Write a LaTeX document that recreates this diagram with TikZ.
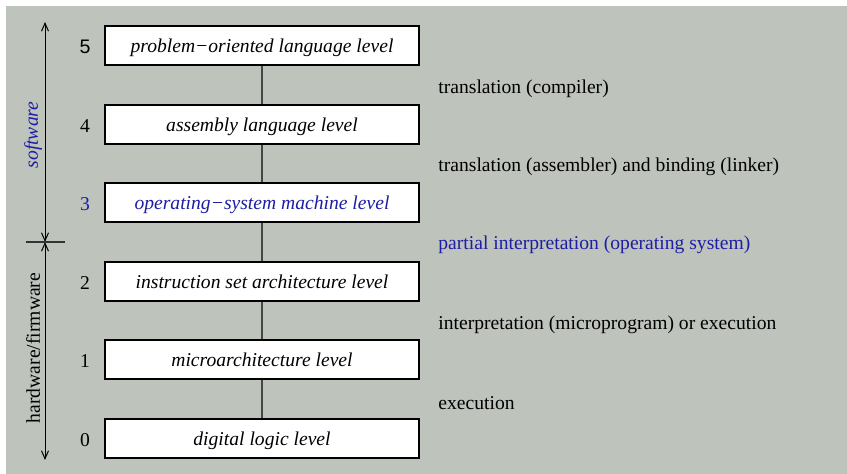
\documentclass[tikz,border=0pt]{standalone}
\usepackage{fontspec}
\setmainfont{Liberation Serif}
\newfontfamily\numsans{Liberation Sans}
\usetikzlibrary{arrows.meta}
\definecolor{bg}{RGB}{190,195,188}
\definecolor{hlblue}{RGB}{30,30,165}
\definecolor{conn}{RGB}{70,70,70}
\tikzset{
  levelbox/.style={draw=black, line width=0.6pt, fill=white, minimum width=157pt, minimum height=19.5pt, inner sep=0pt, text height=9pt, text depth=2pt, font=\fontsize{9.8}{12}\selectfont\itshape},
  lvlnum/.style={font=\fontsize{9.8}{12}\selectfont, anchor=center},
  trlabel/.style={anchor=west, font=\fontsize{9.8}{12}\selectfont, inner sep=0pt},
  link/.style={draw=conn, line width=0.75pt},
  sidearrow/.style={draw=black, line width=0.5pt, {Straight Barb[length=4pt,width=3.5pt]}-{Straight Barb[length=4pt,width=3.5pt]}},
  sidelabel/.style={rotate=90, font=\fontsize{9.8}{12}\selectfont, anchor=center}
}
\begin{document}
\begin{tikzpicture}[x=0.5pt,y=-0.5pt]
\useasboundingbox (0,0) rectangle (847,474);
\fill[bg] (6,6) rectangle (847,474);
% boxes
\node[levelbox] (l5) at (262,45.5) {problem−oriented language level};
\node[levelbox] (l4) at (262,124.5) {assembly language level};
\node[levelbox, text=hlblue] (l3) at (262,202.5) {operating−system machine level};
\node[levelbox] (l2) at (262,281.5) {instruction set architecture level};
\node[levelbox] (l1) at (262,359.5) {microarchitecture level};
\node[levelbox] (l0) at (262,438.5) {digital logic level};
% connectors
\draw[link] (l5.south) -- (l4.north);
\draw[link] (l4.south) -- (l3.north);
\draw[link] (l3.south) -- (l2.north);
\draw[link] (l2.south) -- (l1.north);
\draw[link] (l1.south) -- (l0.north);
% numbers
\node[lvlnum, font=\fontsize{9.8}{12}\selectfont\numsans] (n5) at (85,47) {5};
\node[lvlnum] (n4) at (85,126.5) {4};
\node[lvlnum, text=hlblue] (n3) at (85,204.5) {3};
\node[lvlnum] (n2) at (85,283.5) {2};
\node[lvlnum] (n1) at (85,361.5) {1};
\node[lvlnum] (n0) at (85,440.5) {0};
% translation labels
\node[trlabel] (t54) at (438,89) {translation (compiler)};
\node[trlabel] (t43) at (438,167) {translation (assembler) and binding (linker)};
\node[trlabel, text=hlblue] (t32) at (438,245) {partial interpretation (operating system)};
\node[trlabel] (t21) at (438,325) {interpretation (microprogram) or execution};
\node[trlabel] (t10) at (438,403) {execution};
% side arrows
\coordinate (atop) at (45,22);
\coordinate (amid) at (45,242);
\coordinate (abot) at (45,460);
\coordinate (tickl) at (26,242);
\coordinate (tickr) at (65,242);
\draw[sidearrow] (atop) -- (amid);
\draw[sidearrow] (amid) -- (abot);
\draw[draw=black!80, line width=0.6pt] (tickl) -- (tickr);
\node[sidelabel, text=hlblue, font=\fontsize{9.8}{12}\selectfont\itshape] (sw) at (33,135) {software};
\node[sidelabel] (hw) at (33,348) {hardware/firmware};
\end{tikzpicture}
\end{document}
